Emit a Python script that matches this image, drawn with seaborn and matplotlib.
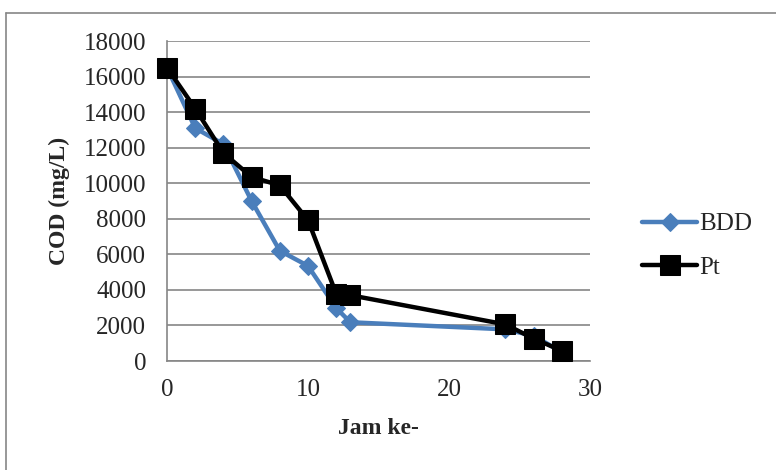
import matplotlib
matplotlib.use("Agg")
import matplotlib.pyplot as plt
from matplotlib.lines import Line2D
import seaborn as sns
import pandas as pd

hours = [0, 2, 4, 6, 8, 10, 12, 13, 24, 26, 28]
bdd = [16500, 13100, 12200, 9000, 6200, 5350, 2980, 2180, 1780, 1420, 500]
pt = [16500, 14200, 11700, 10350, 9880, 7920, 3780, 3700, 2060, 1260, 580]
series_names = ["BDD", "Pt"]
xticks = [0, 10, 20, 30]
yticks = list(range(0, 18001, 2000))

sns.set_style("white")
plt.rcParams["font.family"] = ["Liberation Serif", "DejaVu Serif"]

df = pd.DataFrame({
    "Jam": hours * 2,
    "COD": bdd + pt,
    "Seri": [series_names[0]] * len(hours) + [series_names[1]] * len(hours),
})

W, H = 776, 470
fig = plt.figure(figsize=(W / 100, H / 100), dpi=100)
ax = fig.add_axes([167 / W, 1 - 361 / H, (590 - 167) / W, (361 - 41) / H])

grid_c = "#868686"
colors = {"BDD": "#4A7EBB", "Pt": "#000000"}
markers = {"BDD": "D", "Pt": "s"}
sizes = {"BDD": 9, "Pt": 14}

for name in series_names:
    sub = df[df["Seri"] == name]
    sns.lineplot(data=sub, x="Jam", y="COD", ax=ax, color=colors[name],
                 marker=markers[name], markersize=sizes[name],
                 markeredgecolor=colors[name], linewidth=3.2, label=name,
                 zorder=3 if name == "Pt" else 2, clip_on=False)

ax.set_xlim(0, 30)
ax.set_ylim(0, 18000)
ax.set_xticks(xticks)
ax.set_yticks(yticks)
ax.set_xticklabels([str(v) for v in xticks])
ax.set_yticklabels([str(v) for v in yticks])
ax.yaxis.grid(True, color=grid_c, linewidth=1.2)
ax.xaxis.grid(False)
ax.set_axisbelow(True)
for s in ["top", "right"]:
    ax.spines[s].set_visible(False)
for s in ["left", "bottom"]:
    ax.spines[s].set_color(grid_c)
    ax.spines[s].set_linewidth(1.2)
ax.tick_params(axis="both", which="major", labelsize=18, color=grid_c,
               length=4, width=1.2, direction="out")
ax.tick_params(axis="y", pad=11)
ax.tick_params(axis="x", pad=9)
ax.set_xlabel("Jam ke-", fontsize=17, fontweight="bold", labelpad=12)
ax.set_ylabel("COD (mg/L)", fontsize=17, fontweight="bold", labelpad=10)

ax.legend(loc="center left", bbox_to_anchor=(642 / W, 1 - 246 / H),
          bbox_transform=fig.transFigure, frameon=False, fontsize=18,
          handlelength=2.2, handletextpad=0.1, labelspacing=0.85,
          borderpad=0, borderaxespad=0)

fig.add_artist(Line2D([5.5 / W, 5.5 / W], [0, 1 - 12.5 / H], color=grid_c,
                      linewidth=1.2, transform=fig.transFigure))
fig.add_artist(Line2D([5.5 / W, 1], [1 - 12.5 / H, 1 - 12.5 / H], color=grid_c,
                      linewidth=1.2, transform=fig.transFigure))

fig.savefig("out.png", dpi=100)
